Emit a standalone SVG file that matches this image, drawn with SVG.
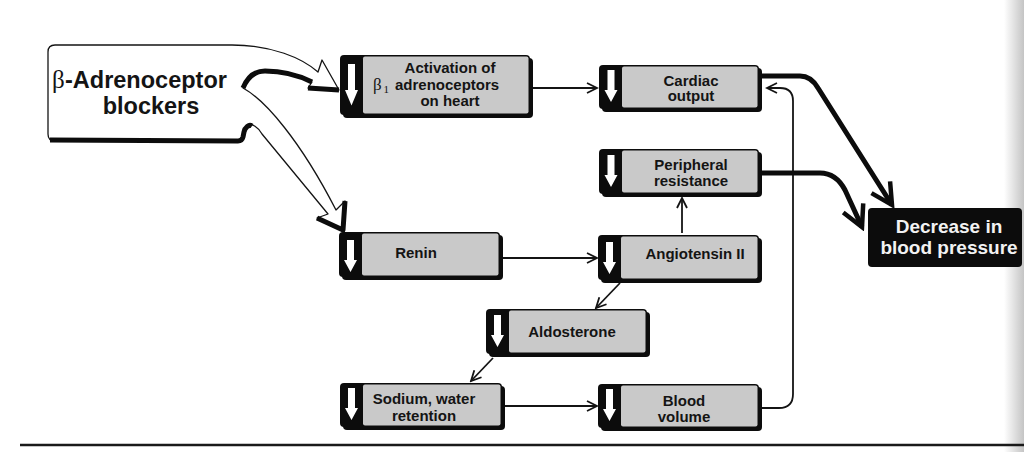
<svg xmlns="http://www.w3.org/2000/svg" xmlns:xlink="http://www.w3.org/1999/xlink" width="1024" height="452" viewBox="0 0 1024 452">
<style>
.t{font-family:"Liberation Sans",Arial,sans-serif;font-weight:bold;font-size:15px;fill:#141414;text-anchor:middle}
.sh{fill:#0c0c0c}
.bd{fill:#0c0c0c}
.gr{fill:#c9c9c9}
.thin{fill:none;stroke:#141414;stroke-width:1.8}
.thick{fill:none;stroke:#0c0c0c;stroke-width:5;stroke-linejoin:round}
.wt{font-family:"Liberation Sans",Arial,sans-serif;font-weight:bold;font-size:19px;fill:#f2f2f2;text-anchor:middle}
</style>
<defs>
<path id="darr" d="M-3.5,0 H3.5 V20 H6.5 L0,32 L-6.5,20 H-3.5 Z" fill="#ffffff"/>
<marker id="ah" markerUnits="userSpaceOnUse" viewBox="-14 -8 16 16" markerWidth="16" markerHeight="16" refX="0" refY="0" orient="auto">
<path d="M-10,-5 L0,0 L-10,5" fill="none" stroke="#141414" stroke-width="1.8"/>
</marker>
<marker id="ahb" markerUnits="userSpaceOnUse" viewBox="-26 -14 30 28" markerWidth="30" markerHeight="28" refX="0" refY="0" orient="auto">
<path d="M-21,-11 L0,0 L-21,11" fill="none" stroke="#0c0c0c" stroke-width="4.5" stroke-linejoin="miter"/>
</marker>
<linearGradient id="scan" x1="0" y1="0" x2="1" y2="0">
<stop offset="0" stop-color="#ffffff"/>
<stop offset="1" stop-color="#c4c4c4"/>
</linearGradient>
</defs>
<rect width="1024" height="452" fill="#ffffff"/>
<rect x="1004" y="0" width="20" height="452" fill="url(#scan)"/>
<line x1="20" y1="445" x2="1024" y2="445" stroke="#1a1a1a" stroke-width="2.5"/>

<g id="blockers">
<path d="M55,45 L232,45 C272,45 302,58 318,72 L322,60 L339,90 L308,88 L312,82 C300,76 285,71 265,71 C255,71 248,76 243,88 C265,100 300,140 336,210 L345,201 L343,230 L317,218 L328,214 L262,134 C258,127 252,123 248,126 C245,128 244,131 244,134 L243,137 Q242,141 238,141 L55,141 Q48,141 48,134 L48,52 Q48,45 55,45 Z" fill="#ffffff" stroke="#141414" stroke-width="1.3" stroke-linejoin="round"/>
<path d="M243,88 C248,76 255,71 265,71 C285,71 300,76 312,82" class="thick" stroke-width="5"/>
<path d="M308,88 L339,90" class="thick" stroke-width="4"/>
<path d="M345,201 L343,230 L317,218" class="thick" stroke-width="3.5"/>
<path d="M50,140 L238,141 Q242,141 243,137 L244,132 C245,127 249,124 252,126" class="thick" stroke-width="4"/>
<text x="52" y="88" font-family="'Liberation Serif',serif" font-size="25" fill="#141414">β</text>
<text x="65" y="88" font-family="'Liberation Sans',Arial,sans-serif" font-weight="bold" font-size="23.5" fill="#141414">-Adrenoceptor</text>
<text x="151" y="114" font-family="'Liberation Sans',Arial,sans-serif" font-weight="bold" font-size="23.5" fill="#141414" text-anchor="middle">blockers</text>
</g>

<g id="activation">
<rect class="sh" x="343" y="58" width="190" height="60" rx="4"/>
<rect class="bd" x="340" y="55" width="190" height="60" rx="4"/>
<rect class="gr" x="363" y="56.5" width="165.5" height="57" rx="2"/>
<use xlink:href="#darr" href="#darr" transform="translate(351.5,64) scale(1,1.3)"/>
<text class="t" x="450" y="73">Activation of</text>
<text x="373" y="90" font-family="'Liberation Serif',serif" font-size="17" fill="#141414">β</text>
<text x="383.5" y="93" font-family="'Liberation Serif',serif" font-size="11" fill="#141414">1</text>
<text class="t" x="395" y="90" style="text-anchor:start">adrenoceptors</text>
<text class="t" x="450" y="106">on heart</text>
</g>

<g id="cardiac">
<rect class="sh" x="602" y="68" width="160" height="44" rx="4"/>
<rect class="bd" x="599" y="65" width="160" height="44" rx="4"/>
<rect class="gr" x="622" y="66.5" width="135.5" height="41" rx="2"/>
<use xlink:href="#darr" href="#darr" x="611" y="70"/>
<text class="t" x="691" y="86">Cardiac</text>
<text class="t" x="691" y="101">output</text>
</g>

<g id="peripheral">
<rect class="sh" x="602" y="152" width="160" height="45" rx="4"/>
<rect class="bd" x="599" y="149" width="160" height="45" rx="4"/>
<rect class="gr" x="622" y="150.5" width="135.5" height="42" rx="2"/>
<use xlink:href="#darr" href="#darr" x="611" y="155"/>
<text class="t" x="691" y="170">Peripheral</text>
<text class="t" x="691" y="186">resistance</text>
</g>

<g id="renin">
<rect class="sh" x="342" y="235" width="161" height="45" rx="4"/>
<rect class="bd" x="339" y="232" width="161" height="45" rx="4"/>
<rect class="gr" x="362" y="233.5" width="136.5" height="42" rx="2"/>
<use xlink:href="#darr" href="#darr" x="350.5" y="240"/>
<text class="t" x="416" y="258">Renin</text>
</g>

<g id="angiotensin">
<rect class="sh" x="601" y="238" width="161" height="45" rx="4"/>
<rect class="bd" x="598" y="235" width="161" height="45" rx="4"/>
<rect class="gr" x="621" y="236.5" width="136.5" height="42" rx="2"/>
<use xlink:href="#darr" href="#darr" x="609.5" y="242"/>
<text class="t" x="695" y="259">Angiotensin II</text>
</g>

<g id="aldosterone">
<rect class="sh" x="489" y="312" width="161" height="45" rx="4"/>
<rect class="bd" x="486" y="309" width="161" height="45" rx="4"/>
<rect class="gr" x="509" y="310.5" width="136.5" height="42" rx="2"/>
<use xlink:href="#darr" href="#darr" x="497.5" y="315"/>
<text class="t" x="572" y="337">Aldosterone</text>
</g>

<g id="sodium">
<rect class="sh" x="343" y="386" width="162" height="44" rx="4"/>
<rect class="bd" x="340" y="383" width="162" height="44" rx="4"/>
<rect class="gr" x="363" y="384.5" width="137.5" height="41" rx="2"/>
<use xlink:href="#darr" href="#darr" x="351.5" y="388"/>
<text class="t" x="424" y="404">Sodium, water</text>
<text class="t" x="424" y="421">retention</text>
</g>

<g id="bloodvolume">
<rect class="sh" x="601" y="387" width="161" height="44" rx="4"/>
<rect class="bd" x="598" y="384" width="161" height="44" rx="4"/>
<rect class="gr" x="621" y="385.5" width="136.5" height="41" rx="2"/>
<use xlink:href="#darr" href="#darr" x="609.5" y="389"/>
<text class="t" x="684" y="406">Blood</text>
<text class="t" x="684" y="422">volume</text>
</g>

<g id="decrease">
<rect x="868" y="208" width="154" height="59" rx="4" fill="#0c0c0c"/>
<text class="wt" x="949" y="233">Decrease in</text>
<text class="wt" x="949" y="254">blood pressure</text>
</g>

<g id="connectors">
<path class="thin" d="M533,88 L597,88" marker-end="url(#ah)"/>
<path class="thin" d="M503,258 L597,258" marker-end="url(#ah)"/>
<path class="thin" d="M682,233 L682,198" marker-end="url(#ah)"/>
<path class="thin" d="M620,283 L596,308" marker-end="url(#ah)"/>
<path class="thin" d="M493,358 L471,381" marker-end="url(#ah)"/>
<path class="thin" d="M505,406 L597,406" marker-end="url(#ah)"/>
<path class="thin" d="M762,408 L779,408 Q793,408 793,394 L793,101 Q793,88 780,88 L767,88" marker-end="url(#ah)"/>
<path class="thick" d="M762,76 L800,76 Q811,76 818,88 L892,205" marker-end="url(#ahb)"/>
<path class="thick" d="M762,173 L820,173 Q836,173 845,190 L862,227" marker-end="url(#ahb)"/>
</g>
</svg>
